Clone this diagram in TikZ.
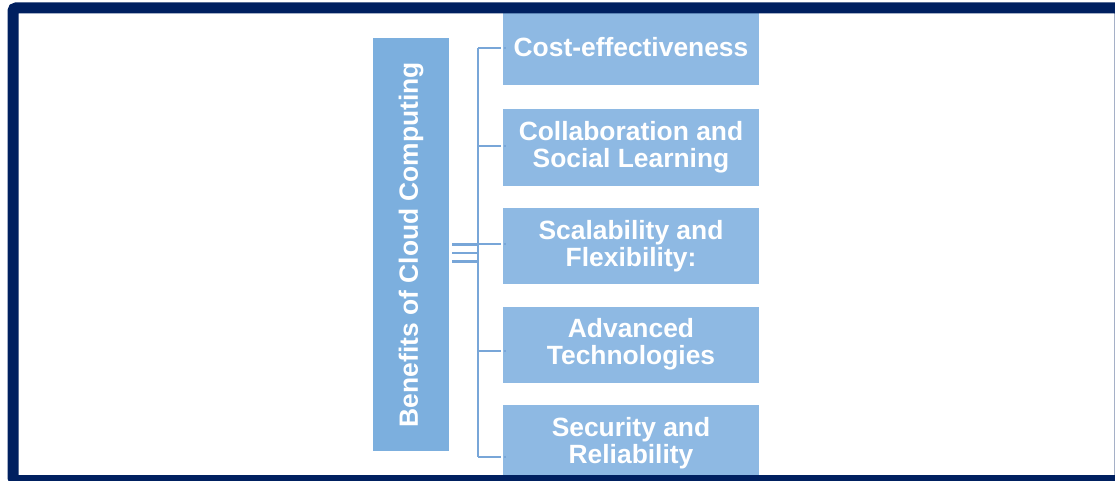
\documentclass[tikz,border=0pt]{standalone}
\usepackage{fontspec}
\setmainfont{Liberation Sans}
\usetikzlibrary{positioning}
\definecolor{navy}{RGB}{0,32,96}
\definecolor{mainblue}{RGB}{124,175,222}
\definecolor{itemblue}{RGB}{142,185,227}
\definecolor{lineblue}{RGB}{120,166,216}
\begin{document}
\begin{tikzpicture}[x=1pt,y=-1pt,
  every node/.style={font=\bfseries\fontsize{26.4}{27}\selectfont, text=white, inner sep=0pt},
  hop/.style={fill=itemblue, minimum width=256pt, minimum height=76pt, align=center},
  noi/.style={lineblue, line width=2.2pt}]
\useasboundingbox (0,0) rectangle (1115,481);
% Hộp chính (chữ dọc)
\node[fill=mainblue, rotate=90, minimum width=413pt, minimum height=76pt] (chinh) at (411,244.5) {Benefits of Cloud Computing};
% Các hộp bên phải
\foreach \i/\y/\txt in {1/47.5/Cost-effectiveness, 2/147.5/{Collaboration and\\Social Learning}, 3/246/{Scalability and\\Flexibility:}, 4/344.5/{Advanced\\Technologies}, 5/443/{Security and\\Reliability}}
  \node[hop] (hop\i) at (631,\y) {\txt};
% Trục nối và các nhánh
\coordinate (truc) at (478,0);
\foreach \i/\dy in {1/0.5,2/-1.5,3/-2,4/6.5,5/14}{
  \coordinate (n\i) at ([yshift=-\dy pt]hop\i.west -| truc);
  \draw[noi, dash pattern=on 23pt off 3pt on 2pt] (n\i) -- ([xshift=3pt,yshift=-\dy pt]hop\i.west);
}
\draw[noi] (n1) -- (n5);
\foreach \dy in {0,8.5,17}
  \draw[noi] ([xshift=3pt,yshift=-\dy pt]chinh.south) -- ([yshift=-\dy pt]chinh.south -| truc);
% Khung viền
\draw[navy, line width=11pt, rounded corners=3pt] (13,8) rectangle (1120,480.5);
\end{tikzpicture}
\end{document}
